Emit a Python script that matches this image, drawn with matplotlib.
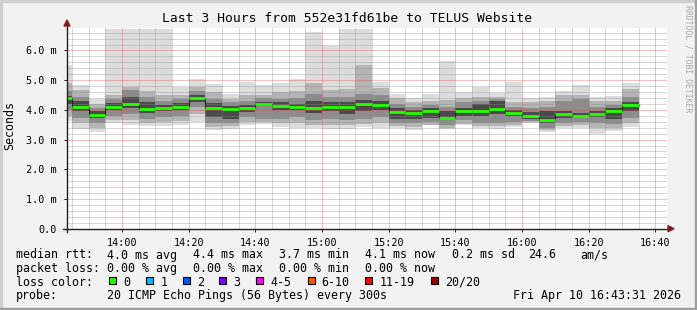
import matplotlib
matplotlib.use("Agg")
import matplotlib.pyplot as plt
from matplotlib.patches import Rectangle, Polygon
from matplotlib.ticker import MultipleLocator, FuncFormatter

W, H = 697, 310

# ---- data (ms), one column per 5 minute step, first step starts 13:40 ----
step_start = [13 * 60 + 40 + 5 * i for i in range(35)]

median = [4.40, 4.10, 3.84, 4.11, 4.21, 4.03, 4.07, 4.11, 4.40, 4.06,
          4.03, 4.06, 4.21, 4.14, 4.11, 4.08, 4.11, 4.11, 4.21, 4.18,
          3.93, 3.90, 3.96, 3.73, 3.96, 3.96, 4.04, 3.91, 3.79, 3.66,
          3.85, 3.79, 3.85, 3.97, 4.15]
ping_max = [5.50, 4.83, 4.36, 6.72, 6.72, 6.72, 6.72, 4.78, 5.03, 4.86,
            4.55, 4.94, 4.83, 4.90, 5.05, 6.62, 6.15, 6.72, 6.72, 4.94,
            4.55, 4.40, 4.55, 5.64, 4.60, 4.77, 4.57, 4.94, 4.40, 4.43,
            4.64, 4.83, 4.43, 4.47, 4.90]
hi2 = [4.90, 4.66, 4.20, 4.50, 4.78, 4.62, 4.50, 4.50, 4.78, 4.60,
       4.38, 4.50, 4.50, 4.60, 4.65, 4.90, 4.66, 4.70, 5.50, 4.75,
       4.40, 4.25, 4.30, 4.32, 4.40, 4.45, 4.45, 4.27, 4.27, 4.30,
       4.50, 4.50, 4.30, 4.30, 4.70]
hi3 = [4.65, 4.43, 4.05, 4.36, 4.68, 4.45, 4.30, 4.35, 4.65, 4.35,
       4.25, 4.30, 4.40, 4.38, 4.40, 4.55, 4.45, 4.45, 4.55, 4.50,
       4.20, 4.10, 4.15, 4.10, 4.25, 4.30, 4.38, 4.10, 4.05, 4.10,
       4.30, 4.38, 4.10, 4.15, 4.45]
hi4 = [4.48, 4.30, 3.95, 4.22, 4.45, 4.25, 4.18, 4.22, 4.50, 4.22,
       4.12, 4.15, 4.28, 4.25, 4.20, 4.30, 4.25, 4.25, 4.32, 4.30,
       4.08, 4.00, 4.05, 3.95, 4.05, 4.20, 4.30, 4.00, 3.92, 3.95,
       3.95, 3.90, 3.95, 4.05, 4.28]
lo4 = [4.20, 3.95, 3.72, 3.98, 4.05, 3.90, 3.95, 3.98, 4.28, 3.75,
       3.70, 3.93, 4.12, 4.00, 4.00, 3.90, 3.95, 3.85, 3.95, 4.00,
       3.70, 3.70, 3.72, 3.65, 3.80, 3.80, 3.85, 3.80, 3.70, 3.55,
       3.72, 3.72, 3.75, 3.70, 3.95]
lo3 = [4.00, 3.72, 3.55, 3.80, 3.85, 3.70, 3.75, 3.80, 4.10, 3.55,
       3.55, 3.75, 3.70, 3.70, 3.75, 3.65, 3.70, 3.65, 3.70, 3.75,
       3.55, 3.55, 3.58, 3.48, 3.65, 3.55, 3.55, 3.60, 3.62, 3.40,
       3.55, 3.60, 3.55, 3.52, 3.72]
lo2 = [3.80, 3.55, 3.40, 3.65, 3.65, 3.55, 3.58, 3.62, 3.85, 3.42,
       3.45, 3.60, 3.60, 3.55, 3.55, 3.50, 3.50, 3.48, 3.52, 3.55,
       3.45, 3.42, 3.50, 3.40, 3.52, 3.45, 3.45, 3.48, 3.59, 3.32,
       3.45, 3.50, 3.40, 3.40, 3.55]
ping_min = [3.62, 3.35, 3.26, 3.55, 3.50, 3.45, 3.45, 3.48, 3.59, 3.31,
            3.37, 3.48, 3.52, 3.42, 3.40, 3.39, 3.37, 3.35, 3.42, 3.40,
            3.39, 3.31, 3.48, 3.35, 3.48, 3.39, 3.37, 3.42, 3.57, 3.26,
            3.39, 3.39, 3.20, 3.28, 3.42]

loss_labels = ["0", "1", "2", "3", "4-5", "6-10", "11-19", "20/20"]
loss_colors = ["#26ff00", "#00b8ff", "#0059ff", "#7e00ff", "#ff00ff",
               "#ff5500", "#ff0000", "#a10000"]

title = "Last 3 Hours from 552e31fd61be to TELUS Website"
t_start, t_end = 13 * 60 + 43 + 31 / 60, 16 * 60 + 43 + 31 / 60

plt.rcParams["font.family"] = "DejaVu Sans Mono"
plt.rcParams["lines.scale_dashes"] = False


def fx(px):
    return px / W


def fy(py):
    return 1 - py / H


fig = plt.figure(figsize=(W / 100, H / 100), dpi=100, facecolor="#f2f2f2")
ax = fig.add_axes([fx(67), fy(228.7), 600 / W, 200.7 / H])
ax.set_facecolor("white")

# smoke: outer band first, darker bands on top
bands = [(ping_min, ping_max, "#dddddd"), (lo2, hi2, "#b4b4b4"),
         (lo3, hi3, "#8c8c8c"), (lo4, hi4, "#4a4a4a")]
for lo, hi, col in bands:
    ax.bar(step_start, [h - l for h, l in zip(hi, lo)], bottom=lo, width=5,
           align="edge", color=col, linewidth=0, antialiased=False, zorder=1)

# median: dark step line plus green (0 loss) marker
edges = step_start + [step_start[-1] + 5]
ax.step(edges, median + [median[-1]], where="post", color="#202020",
        lw=0.8, zorder=3)
ax.hlines(median, step_start, [s + 5 for s in step_start],
          color=loss_colors[0], lw=2.0, zorder=4)

ax.set_xlim(t_start, t_end)
ax.set_ylim(0, 6.757)

ax.xaxis.set_major_locator(MultipleLocator(20))
ax.xaxis.set_minor_locator(MultipleLocator(5))
ax.xaxis.set_major_formatter(FuncFormatter(lambda v, p: f"{int(v) // 60}:{int(v) % 60:02d}"))
ax.yaxis.set_major_locator(MultipleLocator(1))
ax.yaxis.set_minor_locator(MultipleLocator(0.2))
ax.yaxis.set_major_formatter(FuncFormatter(lambda v, p: "0.0" if abs(v) < 1e-9 else f"{v:.1f} m"))

dots = (0, (0.72, 0.72))
ax.grid(which="minor", color=(0.56, 0.56, 0.56, 0.55), lw=0.5, linestyle=dots, zorder=5)
ax.grid(which="major", color=(0.87, 0.31, 0.31, 0.55), lw=0.5, linestyle=dots, zorder=6)
ax.set_axisbelow(False)

ax.tick_params(which="major", length=2.5, width=0.7, color="#1f1f1f",
               labelsize=7.3, pad=4)
ax.tick_params(which="minor", length=0)
ax.tick_params(axis="y", pad=5)
for s in ax.spines.values():
    s.set_visible(False)

# axis lines with rrdtool style arrows
ax.plot([-4 / 600, 1 + 3 / 600], [0, 0], transform=ax.transAxes,
        color="#1f1f1f", lw=1.0, clip_on=False, zorder=7)
ax.plot([0, 0], [-3 / 200.7, 1 + 3 / 200.7], transform=ax.transAxes,
        color="#1f1f1f", lw=1.0, clip_on=False, zorder=7)
arrow_col = "#801f1f"
fig.patches.append(Polygon([(fx(668), fy(225.7)), (fx(668), fy(231.7)), (fx(674), fy(228.7))],
                           closed=True, color=arrow_col, transform=fig.transFigure))
fig.patches.append(Polygon([(fx(64), fy(26)), (fx(70), fy(26)), (fx(67), fy(20))],
                           closed=True, color=arrow_col, transform=fig.transFigure))

# frame shading
fig.patches.append(Rectangle((0, fy(2)), 1, 2 / H, color="#cfcfcf", transform=fig.transFigure))
fig.patches.append(Rectangle((0, 0), 2 / W, 1, color="#cfcfcf", transform=fig.transFigure))
fig.patches.append(Rectangle((0, 0), 1, 2.5 / H, color="#9e9e9e", transform=fig.transFigure))
fig.patches.append(Rectangle((fx(694.5), 0), 2.5 / W, 1, color="#9e9e9e", transform=fig.transFigure))

fig.text(fx(347.5), fy(19), title, ha="center", va="center", fontsize=9.35)
fig.text(fx(10), fy(126), "Seconds", rotation=90, ha="center", va="center", fontsize=8.4)
fig.text(fx(688), fy(59), "RRDTOOL / TOBI OETIKER", rotation=270, ha="center",
         va="center", fontsize=5.9, color="#a8a8a8")

# legend block
fs = 8.4
rows = [255, 268.3, 282.3, 295.7]
line1 = [(16, "median rtt:"), (107, "4.0 ms avg"), (193, "4.4 ms max"),
         (279, "3.7 ms min"), (365, "4.1 ms now"), (451.7, "0.2 ms sd"),
         (528, "24.6"), (580, "am/s")]
line2 = [(16, "packet loss:"), (107, "0.00 % avg"), (193, "0.00 % max"),
         (279, "0.00 % min"), (365, "0.00 % now")]
line4 = [(16, "probe:"), (107, "20 ICMP Echo Pings (56 Bytes) every 300s"),
         (513.3, "Fri Apr 10 16:43:31 2026")]
for row, items in ((rows[0], line1), (rows[1], line2), (rows[3], line4)):
    for x, s in items:
        fig.text(fx(x), fy(row), s, ha="left", va="center", fontsize=fs)

fig.text(fx(16), fy(rows[2]), "loss color:", ha="left", va="center", fontsize=fs)
box_x = [109.3, 146.3, 182.8, 219.3, 256, 307.7, 365.3, 431.3]
for bx, lab, col in zip(box_x, loss_labels, loss_colors):
    fig.patches.append(Rectangle((fx(bx), fy(284)), 7 / W, 7 / H,
                                 facecolor=col, edgecolor="black", lw=0.8,
                                 transform=fig.transFigure))
    fig.text(fx(bx + 14), fy(rows[2]), lab, ha="left", va="center", fontsize=fs)

fig.savefig("out.png", dpi=100, facecolor=fig.get_facecolor())
